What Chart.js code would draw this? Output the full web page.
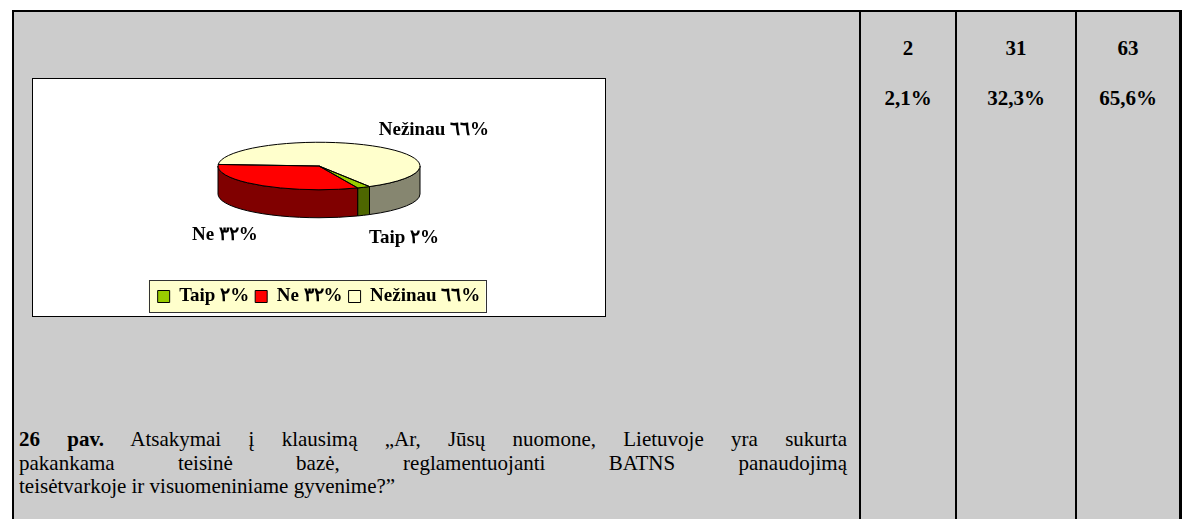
<!DOCTYPE html>
<html>
<head>
<meta charset="utf-8">
<script src="https://cdn.jsdelivr.net/npm/chart.js@4.4.1/dist/chart.umd.min.js"></script>
<style>
    body {
        margin: 0;
        width: 1185px;
        height: 519px;
        overflow: hidden;
        position: relative;
        background: #fff;
        font-family: 'Liberation Serif', 'Times New Roman', serif;
    }
    #cell {
        position: absolute;
        left: 12px;
        top: 10px;
        width: 1170px;
        height: 520px;
        background: #ccc;
        border-top: 2px solid #000;
        border-left: 2px solid #000;
        border-right: 2px solid #000;
        box-sizing: border-box;
    }
    .vline {
        position: absolute;
        top: 10px;
        width: 2px;
        height: 520px;
        background: #000;
    }
    .num {
        position: absolute;
        text-align: center;
        font-weight: bold;
        font-size: 21px;
        line-height: 24px;
    }
    #chart-box {
        position: absolute;
        left: 32px;
        top: 78px;
        width: 574px;
        height: 239px;
        background: #fff;
        border: 1px solid #000;
        box-sizing: border-box;
    }
    #chart-canvas {
        position: absolute;
        left: 0;
        top: 0;
    }
    #caption {
        position: absolute;
        left: 19px;
        top: 428px;
        width: 828px;
        font-size: 21px;
        line-height: 23.5px;
    }
    #caption div {
        text-align: justify;
        text-align-last: justify;
        white-space: nowrap;
    }
    #caption div.last {
        text-align-last: left;
    }
</style>
</head>
<body>
<div id="cell"></div>
<div id="chart-box"><canvas id="chart-canvas" width="572" height="246"></canvas></div>
<div id="caption">
    <div><b>26 pav.</b> Atsakymai į klausimą „Ar, Jūsų nuomone, Lietuvoje yra sukurta</div>
    <div>pakankama teisinė bazė, reglamentuojanti BATNS panaudojimą</div>
    <div class="last">teisėtvarkoje ir visuomeniniame gyvenime?”</div>
</div>
<script>
const categories = ['Taip', 'Ne', 'Nežinau'];
const counts = [2, 31, 63];
const shares = ['2,1%', '32,3%', '65,6%'];
const sliceLabels = ['Taip ٢%', 'Ne ٣٢%', 'Nežinau ٦٦%'];

const topColors = ['#99cc00', '#ff0000', '#ffffcc'];
const sideColors = ['#4d6600', '#800000', '#868670'];
const columnEdges = [860, 956, 1076, 1180];

const tilt = 0.235;
const depth = 28;

function buildTable() {
    columnEdges.forEach(x => {
        const line = document.createElement('div');
        line.className = 'vline';
        line.style.left = (x - 1) + 'px';
        document.body.appendChild(line);
    });

    counts.forEach((count, i) => {
        const left = columnEdges[i];
        const width = columnEdges[i + 1] - left;

        [String(count), shares[i]].forEach((text, row) => {
            const el = document.createElement('div');
            el.className = 'num';
            el.style.left = left + 'px';
            el.style.width = width + 'px';
            el.style.top = (36 + row * 50) + 'px';
            el.innerText = text;
            document.body.appendChild(el);
        });
    });
}

function frontParts(start, end) {
    const parts = [];

    for (let k = -2; k <= 2; k++) {
        const lo = Math.max(start, 2 * Math.PI * k);
        const hi = Math.min(end, 2 * Math.PI * k + Math.PI);

        if (hi > lo) {
            parts.push([lo, hi]);
        }
    }

    return parts;
}

function topCenter(arc) {
    return { x: arc.x, y: arc.y - depth / 2 };
}

const pie3d = {
    id: 'pie3d',
    beforeDraw(chart) {
        const boxes = chart.legend.legendHitBoxes;
        if (!boxes || !boxes.length) {
            return;
        }

        const ctx = chart.ctx;
        const left = Math.min(...boxes.map(b => b.left)) - 9;
        const right = Math.max(...boxes.map(b => b.left + b.width)) + 5;
        const top = boxes[0].top - 7;
        const bottom = boxes[0].top + boxes[0].height + 6;

        ctx.save();
        ctx.fillStyle = '#ffffcc';
        ctx.strokeStyle = '#333';
        ctx.lineWidth = 1;
        ctx.fillRect(left, top, right - left, bottom - top);
        ctx.strokeRect(Math.round(left) + 0.5, Math.round(top) + 0.5, Math.round(right - left), Math.round(bottom - top));
        ctx.restore();
    },
    beforeDatasetsDraw(chart) {
        const ctx = chart.ctx;
        const arcs = chart.getDatasetMeta(0).data;

        ctx.save();
        arcs.forEach((arc, i) => {
            const c = topCenter(arc);
            const r = arc.outerRadius;

            frontParts(arc.startAngle, arc.endAngle).forEach(([lo, hi]) => {
                ctx.beginPath();
                ctx.ellipse(c.x, c.y, r, r * tilt, 0, lo, hi);
                ctx.lineTo(c.x + r * Math.cos(hi), c.y + r * tilt * Math.sin(hi) + depth);
                ctx.ellipse(c.x, c.y + depth, r, r * tilt, 0, hi, lo, true);
                ctx.closePath();
                ctx.fillStyle = sideColors[i];
                ctx.fill();
                ctx.strokeStyle = '#000';
                ctx.lineWidth = 1;
                ctx.stroke();
            });
        });

        const first = arcs[0];
        ctx.translate(first.x, first.y - depth / 2);
        ctx.scale(1, tilt);
        ctx.translate(-first.x, -first.y);
    },
    afterDatasetsDraw(chart) {
        const ctx = chart.ctx;
        const arcs = chart.getDatasetMeta(0).data;

        ctx.restore();
        ctx.save();

        arcs.forEach(arc => {
            const c = topCenter(arc);
            const r = arc.outerRadius;

            ctx.beginPath();
            ctx.moveTo(c.x, c.y);
            ctx.ellipse(c.x, c.y, r, r * tilt, 0, arc.startAngle, arc.endAngle);
            ctx.closePath();
            ctx.strokeStyle = '#000';
            ctx.lineWidth = 1;
            ctx.stroke();
        });

        ctx.font = 'bold 19px "Liberation Serif"';
        ctx.fillStyle = '#000';
        ctx.textBaseline = 'middle';

        arcs.forEach((arc, i) => {
            const c = topCenter(arc);
            const r = arc.outerRadius;
            const mid = (arc.startAngle + arc.endAngle) / 2;
            const cos = Math.cos(mid);
            const sin = Math.sin(mid);

            ctx.textAlign = cos >= 0 ? 'left' : 'right';
            ctx.fillText(
                chart.data.labels[i],
                c.x + cos * r * (cos >= 0 ? 1.12 : 1.04),
                c.y + sin * (r * tilt + 18) + (sin > 0 ? depth + 7 : 0)
            );
        });

        ctx.restore();
    }
};

function drawChart() {
    const ctx = document.getElementById('chart-canvas').getContext('2d');

    return new Chart(ctx, {
        type: 'pie',
        data: {
            labels: sliceLabels,
            datasets: [{
                label: categories.join(', '),
                data: counts,
                backgroundColor: topColors,
                borderWidth: 0
            }]
        },
        options: {
            responsive: false,
            animation: false,
            devicePixelRatio: 1,
            rotation: 150,
            events: [],
            layout: {
                padding: { bottom: 9 }
            },
            plugins: {
                tooltip: { enabled: false },
                legend: {
                    position: 'bottom',
                    labels: {
                        color: '#000',
                        boxWidth: 12,
                        boxHeight: 12,
                        padding: 6,
                        font: { family: 'Liberation Serif', size: 19, weight: 'bold' },
                        generateLabels: chart => chart.data.labels.map((text, i) => ({
                            text: text,
                            fillStyle: topColors[i],
                            strokeStyle: '#000',
                            lineWidth: 1,
                            fontColor: '#000',
                            hidden: false,
                            index: i
                        }))
                    }
                }
            }
        },
        plugins: [pie3d]
    });
}

buildTable();
drawChart();
</script>
</body>
</html>
